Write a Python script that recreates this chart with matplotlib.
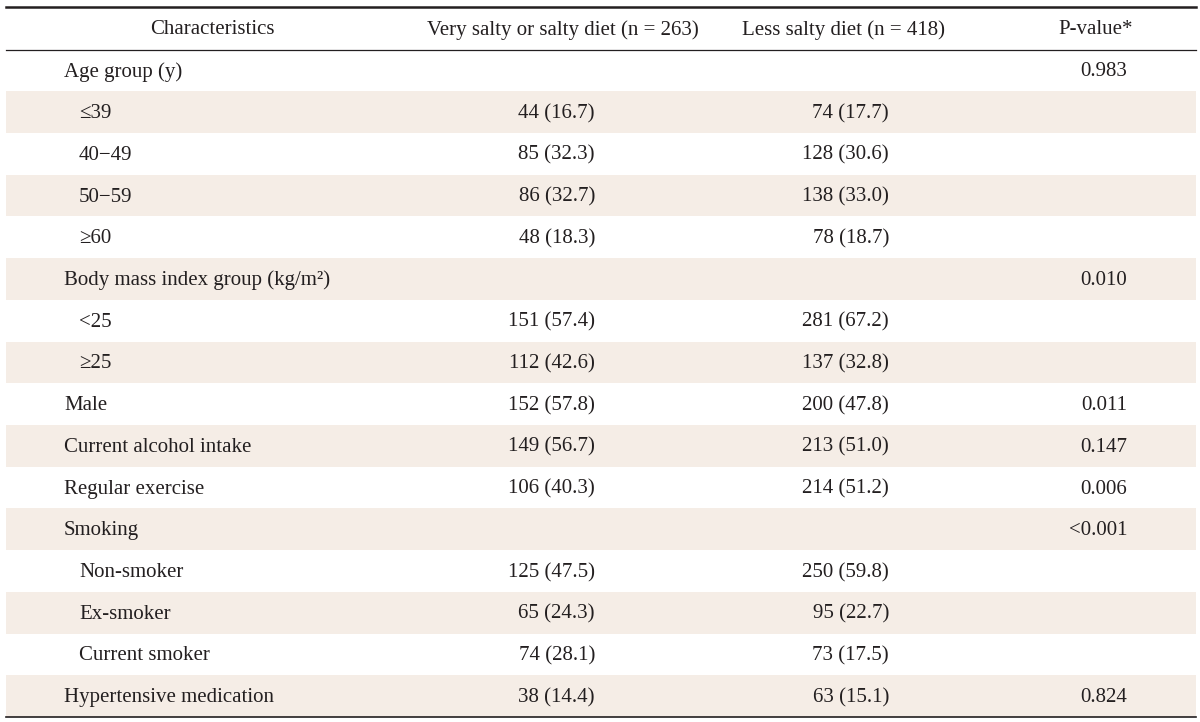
import matplotlib
matplotlib.use("Agg")
import matplotlib.pyplot as plt
from matplotlib.patches import Rectangle

headers = ["Characteristics", "Very salty or salty diet (n = 263)", "Less salty diet (n = 418)", "P-value*"]
labels = ["Age group (y)", "≤39", "40−49", "50−59", "≥60",
          "Body mass index group (kg/m²)", "<25", "≥25",
          "Male", "Current alcohol intake", "Regular exercise", "Smoking",
          "Non-smoker", "Ex-smoker", "Current smoker", "Hypertensive medication"]
indent = [0, 1, 1, 1, 1, 0, 1, 1, 0, 0, 0, 0, 1, 1, 1, 0]
salty = ["", "44 (16.7)", "85 (32.3)", "86 (32.7)", "48 (18.3)", "", "151 (57.4)", "112 (42.6)",
         "152 (57.8)", "149 (56.7)", "106 (40.3)", "", "125 (47.5)", "65 (24.3)", "74 (28.1)", "38 (14.4)"]
less = ["", "74 (17.7)", "128 (30.6)", "138 (33.0)", "78 (18.7)", "", "281 (67.2)", "137 (32.8)",
        "200 (47.8)", "213 (51.0)", "214 (51.2)", "", "250 (59.8)", "95 (22.7)", "73 (17.5)", "63 (15.1)"]
pvals = ["0.983", "", "", "", "", "0.010", "", "", "0.011", "0.147", "0.006", "<0.001", "", "", "", "0.824"]

W, H = 1200, 722
fig = plt.figure(figsize=(12, 7.22), dpi=100)
ax = fig.add_axes([0, 0, 1, 1])
ax.set_xlim(0, W)
ax.set_ylim(H, 0)
ax.axis("off")

FONT = "Liberation Serif"
FS = 15
TC = "#231f20"
BAND = "#f5ede6"

left, right = 6, 1196
top_line = 7
head_line = 49.5
bottom_line = 717
n = len(labels)
rh = (bottom_line - head_line) / n
dy = 1.5

# header
hy = (top_line + head_line) / 2 + dy
for x, h in zip([212, 563, 843, 1096], headers):
    ax.text(x, hy, h, ha="center", va="center", fontsize=FS, family=FONT, color=TC)

for i in range(n):
    y0 = head_line + i * rh
    yc = y0 + rh / 2 + dy
    if i % 2 == 1:
        ax.add_patch(Rectangle((left, y0), right - left, rh, facecolor=BAND, edgecolor="none", zorder=0))
    ax.text(64 + 15 * indent[i], yc, labels[i], ha="left", va="center", fontsize=FS, family=FONT, color=TC)
    ax.text(595, yc, salty[i], ha="right", va="center", fontsize=FS, family=FONT, color=TC)
    ax.text(889, yc, less[i], ha="right", va="center", fontsize=FS, family=FONT, color=TC)
    ax.text(1127, yc, pvals[i], ha="right", va="center", fontsize=FS, family=FONT, color=TC)

ax.plot([left, right], [top_line, top_line], color="#231f20", lw=1.8, zorder=3)
ax.plot([left, right], [head_line, head_line], color="#231f20", lw=0.9, zorder=3)
ax.plot([left, right], [bottom_line, bottom_line], color="#231f20", lw=1.2, zorder=3)

fig.savefig("out.png", dpi=100, facecolor="white")
